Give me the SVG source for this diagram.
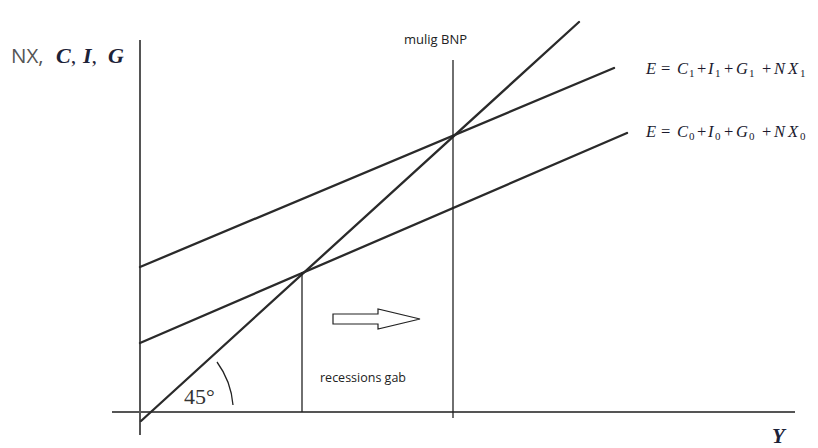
<svg xmlns="http://www.w3.org/2000/svg" width="818" height="448" viewBox="0 0 818 448">
<style>
.ax{stroke:#555;stroke-width:2;fill:none}
.ln{stroke:#2a2a2a;stroke-width:2.3;fill:none;stroke-linecap:round}
.vl{stroke:#222;stroke-width:1.3;fill:none}
.sans{font-family:"Open Sans","Liberation Sans",sans-serif;fill:#222}
.serif{font-family:"Liberation Serif","DejaVu Serif",serif}
.bi{font-family:"Liberation Serif","DejaVu Serif",serif;font-weight:bold;font-style:italic;fill:#1c2238}
.eq{font-family:"Liberation Serif","DejaVu Serif",serif;font-size:16.5px;fill:#1a1a2e}
.it{font-style:italic}
.sub{font-size:11px}
</style>
<rect width="818" height="448" fill="#fff"/>
<g id="axes">
<line class="ax" x1="140" y1="40" x2="140" y2="435"/>
<line class="ax" x1="112" y1="412" x2="795" y2="412"/>
</g>
<g id="connectors">
<line class="ln" x1="141" y1="421" x2="579" y2="22"/>
<line class="ln" x1="140" y1="267" x2="614" y2="68"/>
<line class="ln" x1="140" y1="343" x2="627" y2="133"/>
<line class="vl" x1="453" y1="60" x2="453" y2="418"/>
<line class="vl" x1="302" y1="272" x2="302" y2="412"/>
<path class="vl" d="M217 362 A84 84 0 0 1 233 405"/>
</g>
<g id="yaxis-label">
<text x="11" y="63" font-size="20.5" class="sans" fill="#555"><tspan fill="#555">NX,</tspan><tspan class="bi" font-size="22" x="56">C</tspan><tspan class="serif" fill="#1c2238" font-size="22">, </tspan><tspan class="bi" font-size="22" x="83">I</tspan><tspan class="serif" fill="#1c2238" font-size="22">, </tspan><tspan class="bi" font-size="22" x="108">G</tspan></text>
</g>
<g id="xaxis-label">
<text x="772" y="443" class="bi" font-size="21">Y</text>
</g>
<g id="mulig-bnp">
<text x="404" y="44" font-size="13" class="sans">mulig BNP</text>
</g>
<g id="recessions-gab">
<text x="320" y="382" font-size="12.5" class="sans">recessions gab</text>
</g>
<g id="angle-label">
<text x="184" y="404" class="serif" font-size="22" fill="#333">45°</text>
</g>
<g id="arrow">
<polygon points="333,314 378,314 378,309 420,319 378,329 378,324 333,324" fill="#fff" stroke="#222" stroke-width="1.2"/>
</g>
<g id="label-E1">
<text class="eq" y="74"><tspan class="it" x="646">E</tspan><tspan x="661">=</tspan><tspan class="it" x="677">C</tspan><tspan class="sub" x="689" dy="3">1</tspan><tspan x="697" dy="-3">+</tspan><tspan class="it" x="708">I</tspan><tspan class="sub" x="715" dy="3">1</tspan><tspan x="724" dy="-3">+</tspan><tspan class="it" x="736">G</tspan><tspan class="sub" x="749" dy="3">1</tspan><tspan x="762" dy="-3">+</tspan><tspan class="it" x="774">N</tspan><tspan class="it" x="788">X</tspan><tspan class="sub" x="800" dy="3">1</tspan></text>
</g>
<g id="label-E0">
<text class="eq" y="137"><tspan class="it" x="646">E</tspan><tspan x="661">=</tspan><tspan class="it" x="677">C</tspan><tspan class="sub" x="689" dy="3">0</tspan><tspan x="697" dy="-3">+</tspan><tspan class="it" x="708">I</tspan><tspan class="sub" x="715" dy="3">0</tspan><tspan x="724" dy="-3">+</tspan><tspan class="it" x="736">G</tspan><tspan class="sub" x="749" dy="3">0</tspan><tspan x="762" dy="-3">+</tspan><tspan class="it" x="774">N</tspan><tspan class="it" x="788">X</tspan><tspan class="sub" x="800" dy="3">0</tspan></text>
</g>
</svg>
